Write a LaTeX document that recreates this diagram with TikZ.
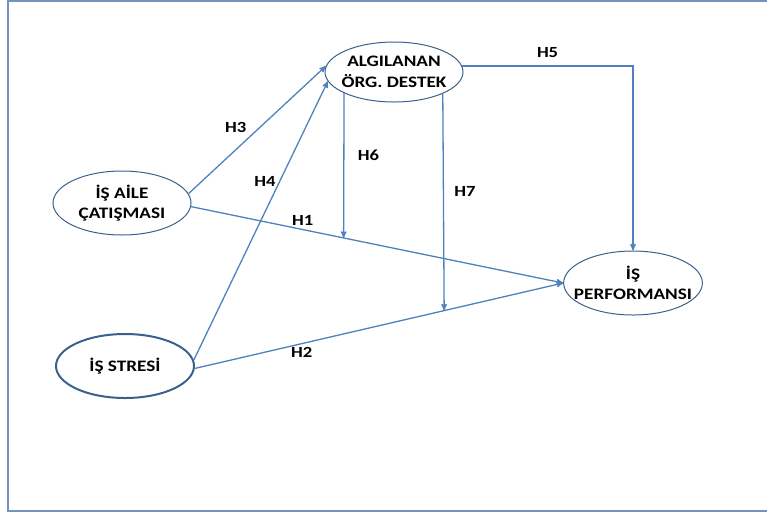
\documentclass[tikz,border=0pt]{standalone}
\usepackage{fontspec}
\setmainfont{Carlito}[FakeStretch=1.2]
\usepackage{xcolor}
\usetikzlibrary{arrows,shapes.geometric,calc}

\definecolor{linkblue}{RGB}{79,129,189}
\definecolor{rimblue}{RGB}{60,96,140}
\definecolor{framegray}{RGB}{118,146,186}

\begin{document}
\begin{tikzpicture}[x=1pt,y=-1pt,
		var/.style={ellipse,draw=rimblue,line width=1pt,minimum width=138pt,
			minimum height=64pt,inner xsep=-10pt,inner ysep=0pt,align=center,text=black,
			font=\bfseries\fontsize{16}{20.5}\selectfont},
		hyp/.style={text=black,font=\bfseries\fontsize{15.5}{18}\selectfont}]
		\useasboundingbox (0,0) rectangle (767,515);
		\draw[framegray,line width=1.6pt] (8,1) rectangle (790,511);
		%
		\node[var,minimum height=60pt] (destek) at (394,72) {ALGILANAN\\ÖRG. DESTEK};
		\node[var] (aile) at (122,203) {İŞ AİLE\\ÇATIŞMASI};
		\node[var,line width=2pt] (stresi) at (125,366) {İŞ STRESİ};
		\node[var] (perf) at (633,283) {İŞ\\PERFORMANSI};
		%
		\coordinate (h6end) at ($(aile.-3)!0.41!(perf.west)$);
		\coordinate (h7end) at ($(stresi.-2)!0.677!(perf.west)$);
		%
		\path[->,color=linkblue,line width=1.3pt,>=stealth']
		(aile.8) edge node[pos=0.45,above left,hyp]{H3} (destek.175)
		(stresi.5) edge node[pos=0.64,left,hyp]{H4} (destek.188)
		(aile.-3) edge node[pos=0.3,above,hyp]{H1} (perf.west)
		(stresi.-2) edge node[pos=0.29,below,hyp]{H2} (perf.west)
		(destek.-157) edge node[pos=0.43,right=10pt,hyp]{H6} (h6end)
		(destek.-24) edge node[pos=0.45,right=7pt,hyp]{H7} (h7end);
		\draw[->,color=linkblue,line width=1.3pt,>=stealth']
		(destek.5) -| node[pos=0.25,above=4pt,hyp]{H5} (perf.north);
	\end{tikzpicture}
\end{document}
